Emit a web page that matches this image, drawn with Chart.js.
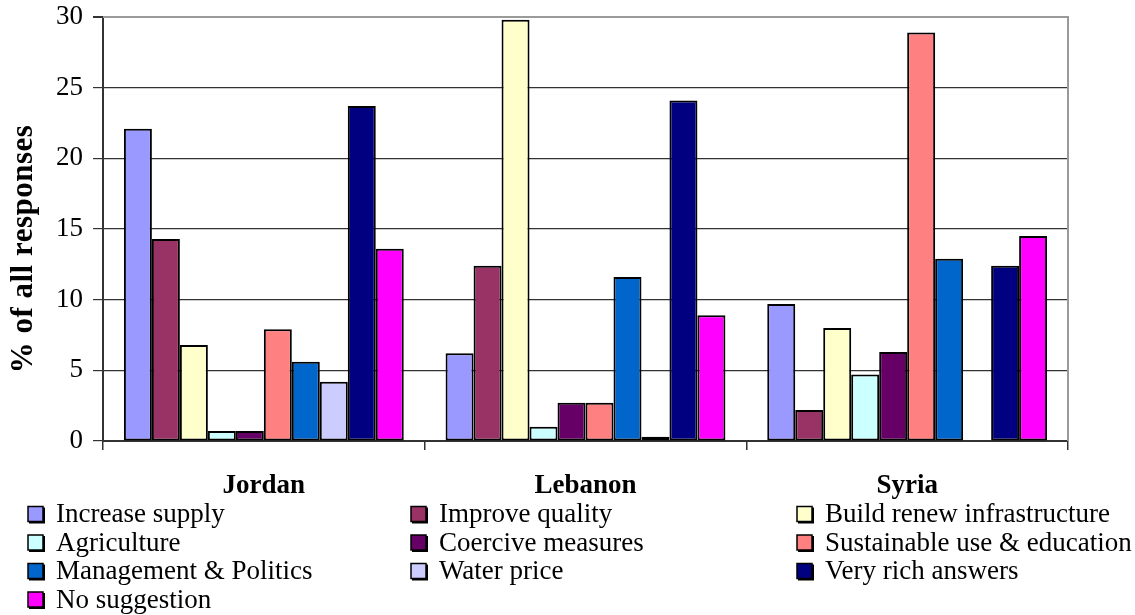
<!DOCTYPE html>
<html>
<head>
<meta charset="utf-8">
<script src="https://cdn.jsdelivr.net/npm/chart.js@4"></script>
<style>
  html, body { margin: 0; padding: 0; background: #fff; }
  #wrap { width: 1135px; height: 615px; }
</style>
</head>
<body>
<div id="wrap"><canvas id="c" width="1135" height="615"></canvas></div>
<script>
// Countries on the x axis
const countries = ['Jordan', 'Lebanon', 'Syria'];

// Suggestion categories (one bar series each)
const seriesNames = [
  'Increase supply', 'Improve quality', 'Build renew infrastructure',
  'Agriculture', 'Coercive measures', 'Sustainable use & education',
  'Management & Politics', 'Water price', 'Very rich answers', 'No suggestion'
];

// Share of all responses (%) per country: Jordan, Lebanon, Syria
const increaseSupply   = [22.1, 6.2, 9.7];
const improveQuality   = [14.3, 12.4, 2.2];
const buildInfra       = [6.8, 29.8, 8.0];
const agriculture      = [0.7, 1.0, 4.7];
const coercive         = [0.7, 2.7, 6.3];
const sustainableUse   = [7.9, 2.7, 28.9];
const managementPolit  = [5.6, 11.6, 12.9];
const waterPrice       = [4.2, 0.3, 0];
const veryRich         = [23.7, 24.1, 12.4];
const noSuggestion     = [13.6, 8.9, 14.5];

// Y axis tick values
const yTicks = [0, 5, 10, 15, 20, 25, 30];

const seriesValues = [
  increaseSupply, improveQuality, buildInfra, agriculture, coercive,
  sustainableUse, managementPolit, waterPrice, veryRich, noSuggestion
];
const seriesColors = [
  '#9999FF', '#993366', '#FFFFCC', '#CCFFFF', '#660066',
  '#FF8080', '#0066CC', '#CCCCFF', '#000080', '#FF00FF'
];

const SERIF = '"Liberation Serif", "Times New Roman", serif';

// Rotated y axis title
const yTitlePlugin = {
  id: 'yTitle',
  afterDraw(chart) {
    const ctx = chart.ctx;
    ctx.save();
    ctx.translate(24, 249);
    ctx.rotate(-Math.PI / 2);
    ctx.font = 'bold 31px ' + SERIF;
    if ('letterSpacing' in ctx) ctx.letterSpacing = '0.5px';
    ctx.fillStyle = '#000';
    ctx.textAlign = 'center';
    ctx.textBaseline = 'middle';
    ctx.fillText('% of all responses', 0, 0);
    ctx.restore();
  }
};

// Grey frame on the top and right of the plot area
const framePlugin = {
  id: 'frame',
  beforeDatasetsDraw(chart) {
    const { ctx, chartArea: a } = chart;
    ctx.save();
    ctx.strokeStyle = '#9a9a9a';
    ctx.lineWidth = 2;
    ctx.beginPath();
    ctx.moveTo(a.left, a.top);
    ctx.lineTo(a.right, a.top);
    ctx.lineTo(a.right, a.bottom);
    ctx.stroke();
    ctx.restore();
  }
};

// Three-column legend below the axis, built from the datasets
const gridLegendPlugin = {
  id: 'gridLegend',
  afterDraw(chart) {
    const ctx = chart.ctx;
    const colX = [28, 411, 797];
    const row0 = 514, rowH = 28.5, box = 15;
    ctx.save();
    ctx.font = '27px ' + SERIF;
    ctx.textBaseline = 'middle';
    ctx.textAlign = 'left';
    chart.data.datasets.forEach((ds, i) => {
      const x = colX[i % 3];
      const y = row0 + Math.floor(i / 3) * rowH;
      ctx.fillStyle = '#000';
      ctx.fillRect(x + 1, y - box / 2 + 1, box + 1, box + 1);
      ctx.fillStyle = ds.backgroundColor;
      ctx.fillRect(x, y - box / 2, box, box);
      ctx.strokeStyle = '#000';
      ctx.lineWidth = 1.5;
      ctx.strokeRect(x, y - box / 2, box, box);
      ctx.fillStyle = '#000';
      ctx.fillText(ds.label, x + 28, y + 1);
    });
    ctx.restore();
  }
};

new Chart(document.getElementById('c'), {
  type: 'bar',
  data: {
    labels: countries,
    datasets: seriesNames.map((name, i) => ({
      label: name,
      data: seriesValues[i],
      backgroundColor: seriesColors[i],
      borderColor: '#000',
      borderWidth: 2,
      borderSkipped: false,
      categoryPercentage: 0.87,
      barPercentage: 1.0
    }))
  },
  options: {
    responsive: false,
    devicePixelRatio: 1,
    animation: false,
    layout: { padding: { left: 0, top: 17, right: 67, bottom: 114 } },
    plugins: {
      legend: { display: false },
      tooltip: { enabled: false }
    },
    scales: {
      x: {
        afterFit(scale) { scale.height = 60; },
        ticks: {
          color: '#000',
          font: { family: SERIF, size: 27, weight: 'bold' },
          padding: 20
        },
        grid: {
          offset: true,
          drawOnChartArea: false,
          drawTicks: true,
          tickLength: 9,
          color: '#333',
          lineWidth: 1.5
        },
        border: { display: true, color: '#333', width: 2 }
      },
      y: {
        min: 0,
        max: 30,
        afterFit(scale) { scale.width = 103; },
        afterBuildTicks(scale) { scale.ticks = yTicks.map(v => ({ value: v })); },
        ticks: {
          color: '#000',
          font: { family: SERIF, size: 27, lineHeight: 0.5 },
          padding: 10
        },
        grid: {
          color: ctx => (ctx.tick && ctx.tick.value === 30 ? '#9a9a9a' : '#333'),
          lineWidth: ctx => (ctx.tick && ctx.tick.value === 30 ? 2 : 1.2),
          tickLength: 10,
          tickColor: '#333'
        },
        border: { display: true, color: '#333', width: 2 }
      }
    }
  },
  plugins: [framePlugin, yTitlePlugin, gridLegendPlugin]
});
</script>
</body>
</html>
